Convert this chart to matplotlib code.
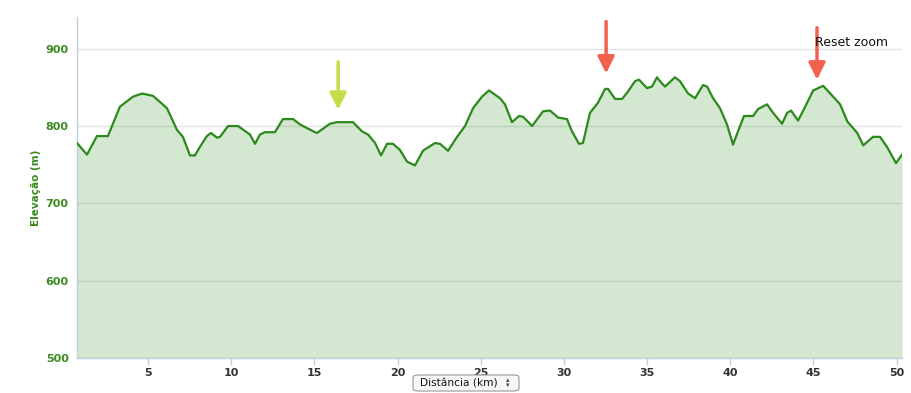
import matplotlib
matplotlib.use("Agg")
import matplotlib.pyplot as plt
from matplotlib.patches import FancyBboxPatch

# distance (km) and elevation (m)
distance_km = [0.73, 1.33, 1.93, 2.59, 3.31, 4.10, 4.64, 5.30, 6.14, 6.74, 7.10, 7.52,
               7.82, 8.12, 8.54, 8.78, 9.15, 9.33, 9.81, 10.41, 11.13, 11.43, 11.73,
               12.03, 12.63, 13.11, 13.72, 14.14, 15.04, 15.16, 15.94, 16.36, 17.32,
               17.87, 18.23, 18.65, 19.01, 19.37, 19.73, 20.15, 20.57, 21.05, 21.53,
               22.25, 22.55, 23.04, 23.58, 24.06, 24.54, 25.08, 25.50, 26.16, 26.46,
               26.88, 27.31, 27.55, 28.09, 28.75, 29.17, 29.65, 30.19, 30.49, 30.91,
               31.15, 31.57, 32.05, 32.48, 32.66, 33.08, 33.50, 33.80, 34.28, 34.52,
               35.00, 35.30, 35.60, 35.78, 36.08, 36.68, 36.98, 37.47, 37.89, 38.37,
               38.61, 38.97, 39.39, 39.81, 40.17, 40.47, 40.83, 41.38, 41.68, 42.22,
               42.58, 43.12, 43.42, 43.66, 44.08, 44.51, 44.99, 45.59, 46.19, 46.61,
               47.04, 47.64, 48.00, 48.59, 49.01, 49.43, 49.97, 50.33]
elevation_m = [778, 763, 787, 787, 825, 838, 842, 839, 823, 795, 786, 762,
               762, 773, 787, 791, 785, 786, 800, 800, 789, 777, 789,
               792, 792, 809, 809, 802, 792, 791, 803, 805, 805,
               793, 789, 778, 762, 777, 777, 769, 754, 749, 768,
               778, 777, 768, 786, 800, 823, 838, 846, 836, 828,
               805, 813, 812, 800, 819, 820, 811, 809, 793, 777,
               778, 817, 830, 848, 848, 835, 835, 843, 858, 860,
               849, 851, 863, 858, 851, 863, 858, 842, 836, 853,
               851, 836, 823, 802, 776, 793, 813, 813, 822, 828,
               817, 803, 817, 820, 807, 825, 846, 852, 838, 828,
               806, 791, 775, 786, 786, 773, 752, 763]

y_ticks = [500, 600, 700, 800, 900]
x_ticks = [5, 10, 15, 20, 25, 30, 35, 40, 45, 50]

# pointer arrows: (km, tail elevation, tip elevation, colour)
arrows = [(16.43, 883, 821, '#c3de48'),
          (32.54, 935, 868, '#f2604e'),
          (45.22, 927, 860, '#f2604e')]

line_color = '#2b8a1b'
axis_color = '#c0d0e0'

fig = plt.figure(figsize=(9.12, 3.93), dpi=100)
ax = fig.add_axes([77 / 912, 35 / 393, 825 / 912, 341 / 393])

ax.fill_between(distance_km, elevation_m, 500, color=line_color, alpha=0.2, lw=0, zorder=2)
ax.plot(distance_km, elevation_m, color=line_color, lw=1.6, zorder=3, solid_joinstyle='round')

ax.set_xlim(distance_km[0], distance_km[-1])
ax.set_ylim(500, 941)
ax.set_yticks(y_ticks)
ax.set_xticks(x_ticks)
ax.yaxis.grid(True, color='#e3e3e3', lw=1, zorder=1)
ax.set_axisbelow(True)

for side in ['top', 'right']:
    ax.spines[side].set_visible(False)
for side in ['left', 'bottom']:
    ax.spines[side].set_color(axis_color)
    ax.spines[side].set_linewidth(1)

ax.tick_params(axis='y', length=0, pad=6, labelcolor='#3a8a1f', labelsize=8)
ax.tick_params(axis='x', length=5, width=1, color=axis_color, pad=2, labelcolor='#333333', labelsize=8)
for lbl in ax.get_yticklabels():
    lbl.set_fontweight('bold')
for lbl in ax.get_xticklabels():
    lbl.set_fontweight('bold')

ax.set_ylabel('Elevação (m)', color='#3a8a1f', fontsize=7.5, fontweight='bold', labelpad=3)

fig.text(815 / 912, 1 - 43 / 393, 'Reset zoom', fontsize=9, color='#111111', va='center', ha='left', zorder=1)

for km, tail, tip, col in arrows:
    ax.annotate('', xy=(km, tip), xytext=(km, tail),
                arrowprops=dict(arrowstyle='-|>,head_width=0.5,head_length=1.0', color=col,
                                lw=2.5, shrinkA=0, shrinkB=0, mutation_scale=10),
                annotation_clip=False, zorder=5)

# dropdown box under the axis
box = FancyBboxPatch((413 / 912, 1 - 391 / 393), 106 / 912, 16 / 393,
                     boxstyle='round,pad=0,rounding_size=0.006', transform=fig.transFigure,
                     facecolor='#f7f7f7', edgecolor='#9a9a9a', lw=0.8)
fig.patches.append(box)
fig.text(420 / 912, 1 - 383 / 393, 'Distância (km)', fontsize=7.6, color='#111111', va='center', ha='left')
fig.text(508 / 912, 1 - 380.5 / 393, '▴', fontsize=5, color='#444444', va='center', ha='center')
fig.text(508 / 912, 1 - 385.5 / 393, '▾', fontsize=5, color='#444444', va='center', ha='center')

fig.savefig('out.png', dpi=100)
